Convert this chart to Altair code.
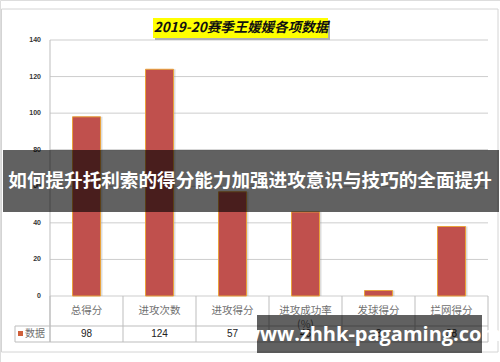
import altair as alt
import pandas as pd

# ---- data ----
categories = ["总得分", "进攻次数", "进攻得分", "进攻成功率(%)", "发球得分", "拦网得分"]
cat_labels = ["总得分", "进攻次数", "进攻得分", "进攻成功率\n(%)", "发球得分", "拦网得分"]
values = [98, 124, 57, 46, 3, 38]
y_ticks = [0, 20, 40, 60, 80, 100, 120, 140]
title_text = "2019-20赛季王媛媛各项数据"
legend_text = "数据"
banner_text = "如何提升托利索的得分能力加强进攻意识与技巧的全面提升"
watermark_text = "www.zhhk-pagaming.com"

df = pd.DataFrame({"cat": categories, "val": values, "label": cat_labels})
ticks = pd.DataFrame({"t": y_ticks})
one = pd.DataFrame({"k": [0]})

CJK = "Noto Sans CJK SC"
xscale = alt.Scale(domain=categories, range=[50, 488], paddingInner=0, paddingOuter=0)
yscale = alt.Scale(domain=[0, 140], range=[296, 40], nice=False, zero=True)
X = lambda **kw: alt.X("cat:N", scale=xscale, axis=None, sort=categories, **kw)
Y = lambda f: alt.Y(f, scale=yscale, axis=None)

frame = alt.Chart(one).mark_rect(fill="white", stroke="#d4d4d4", strokeWidth=1).encode(
    x=alt.value(1.5), x2=alt.value(498), y=alt.value(9), y2=alt.value(352))

grid = alt.Chart(ticks).mark_rule(color="#cdcdcd", strokeWidth=1).encode(
    y=Y("t:Q"), x=alt.value(50), x2=alt.value(488))

ylabels = alt.Chart(ticks).mark_text(align="right", baseline="middle", fontSize=7,
                                     fontWeight="bold", color="#333", font="Liberation Sans").encode(
    y=Y("t:Q"), x=alt.value(41), text="t:Q")

yaxis = alt.Chart(one).mark_rule(color="#bdbdbd").encode(
    x=alt.value(50), y=alt.value(40), y2=alt.value(342))

shadow = alt.Chart(df).mark_bar(width=28, xOffset=2, color="#9a9a9a", opacity=0.35).encode(
    x=X(), y=Y("val:Q"))

bars = alt.Chart(df).mark_bar(width=28, color="#C0504D", stroke="#E9A23B", strokeWidth=1).encode(
    x=X(), y=Y("val:Q"))

# table lines
hline_mid = alt.Chart(one).mark_rule(color="#bdbdbd").encode(
    x=alt.value(15), x2=alt.value(488), y=alt.value(326))
hline_bot = alt.Chart(one).mark_rule(color="#bdbdbd").encode(
    x=alt.value(15), x2=alt.value(488), y=alt.value(342))
vlines = alt.Chart(df).mark_rule(color="#bdbdbd").encode(
    x=X(bandPosition=0), y=alt.value(296), y2=alt.value(342))
vright = alt.Chart(one).mark_rule(color="#bdbdbd").encode(
    x=alt.value(488), y=alt.value(296), y2=alt.value(342))
vleft = alt.Chart(one).mark_rule(color="#bdbdbd").encode(
    x=alt.value(15), y=alt.value(326), y2=alt.value(342))

cat_text = alt.Chart(df).mark_text(fontSize=10.5, color="#707070", font=CJK, lineBreak="\n",
                                   baseline="middle", lineHeight=14).encode(
    x=X(), y=alt.value(311), text="label:N")

val_text = alt.Chart(df).mark_text(fontSize=10, color="#222", font="Liberation Sans",
                                   baseline="middle").encode(
    x=X(), y=alt.value(334), text="val:Q")

legend_sq = alt.Chart(one).mark_rect(color="#D0603A").encode(
    x=alt.value(18), x2=alt.value(23), y=alt.value(331), y2=alt.value(336))
legend_tx = alt.Chart(pd.DataFrame({"s": [legend_text]})).mark_text(
    align="left", baseline="middle", fontSize=10, color="#707070", font=CJK).encode(
    x=alt.value(25), y=alt.value(334), text="s:N")

title_sh = alt.Chart(one).mark_rect(color="#b0b0b0").encode(
    x=alt.value(155), x2=alt.value(330), y=alt.value(20), y2=alt.value(40))
title_bg = alt.Chart(one).mark_rect(color="#FFFF00").encode(
    x=alt.value(153), x2=alt.value(328), y=alt.value(18), y2=alt.value(38))
title_tx = alt.Chart(pd.DataFrame({"s": [title_text]})).mark_text(
    fontSize=13.5, fontWeight="bold", fontStyle="italic", color="#111", font=CJK,
    baseline="middle").encode(x=alt.value(241), y=alt.value(28), text="s:N")

banner_bg = alt.Chart(one).mark_rect(color="black", opacity=0.62).encode(
    x=alt.value(3), x2=alt.value(499), y=alt.value(150), y2=alt.value(212))
banner_tx = alt.Chart(pd.DataFrame({"s": [banner_text]})).mark_text(
    fontSize=18.6, fontWeight="bold", color="white", font=CJK, baseline="middle").encode(
    x=alt.value(250), y=alt.value(181), text="s:N")

wm_bg = alt.Chart(one).mark_rect(color="black", opacity=0.62).encode(
    x=alt.value(257), x2=alt.value(482), y=alt.value(315), y2=alt.value(353))
wm_tx = alt.Chart(pd.DataFrame({"s": [watermark_text]})).mark_text(
    fontSize=20, fontWeight="bold", color="white", font="Open Sans", baseline="middle").encode(
    x=alt.value(372), y=alt.value(335), text="s:N")

chart = alt.layer(
    frame, grid, yaxis, ylabels, shadow, bars,
    hline_mid, hline_bot, vlines, vright, vleft,
    cat_text, val_text, legend_sq, legend_tx,
    title_sh, title_bg, title_tx,
    banner_bg, banner_tx, wm_bg, wm_tx,
).properties(
    width=500, height=362, padding=0,
    autosize=alt.AutoSizeParams(type="none"),
).configure_view(strokeWidth=0).configure(background="white")

chart.save("out.html", embed_options={"renderer": "svg", "actions": False})
